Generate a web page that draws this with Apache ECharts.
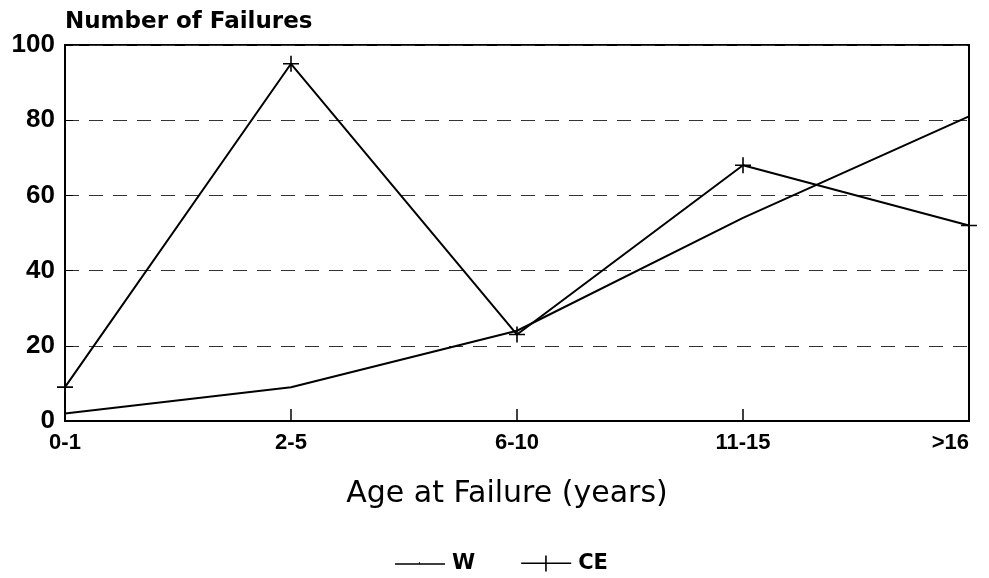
<!DOCTYPE html>
<html>
<head>
<meta charset="utf-8">
<script src="https://cdn.jsdelivr.net/npm/echarts@6/dist/echarts.min.js"></script>
<style>
  html, body { margin: 0; padding: 0; background: #fff; }
  #chart { width: 989px; height: 578px; }
</style>
</head>
<body>
<div id="chart"></div>
<script>
// Failures by age bucket, two series (W and CE).
var ageBuckets = ["0-1", "2-5", "6-10", "11-15", ">16"];
var wFailures = [2, 9, 24, 54, 81];
var ceFailures = [9, 95, 23, 68, 52];
var yTicks = { min: 0, max: 100, interval: 20 };

var SANS = "'Liberation Sans', Arial, sans-serif";
var WIDE = "'DejaVu Sans', sans-serif";
var plus = "path://M-1,-10h2v20h-2zM-10,-1h20v2h-20z";

var c = echarts.init(document.getElementById("chart"));
c.setOption({
  animation: false,
  textStyle: { fontFamily: SANS, color: "#000" },
  grid: { left: 65, right: 20, top: 45, bottom: 157, show: true, borderColor: "#000", borderWidth: 2 },
  legend: {
    top: 548, left: 390, itemGap: 46, itemWidth: 50, itemHeight: 20,
    textStyle: { fontFamily: WIDE, fontSize: 21, fontWeight: "bold", color: "#000", padding: [0, 0, 0, 2] },
    data: [
      { name: "W", icon: "path://M0,9h50v1.6h-50zM24,8h1v2h-1z" },
      { name: "CE", icon: "path://M0,9h50v1.6h-50zM24,2h1.6v16h-1.6z" }
    ]
  },
  xAxis: {
    type: "category", data: ageBuckets, boundaryGap: false,
    name: "Age at Failure (years)", nameLocation: "middle", nameGap: 58,
    nameTextStyle: { fontSize: 30, color: "#000", fontFamily: WIDE, padding: [0, 20, 0, 0] },
    axisLine: { lineStyle: { color: "#000", width: 2 } },
    axisTick: { inside: true, length: 12, lineStyle: { color: "#000", width: 1.5 } },
    axisLabel: { fontSize: 22, fontWeight: "bold", color: "#000", margin: 11, alignMaxLabel: "right" },
    splitLine: { show: false }
  },
  yAxis: {
    type: "value", min: yTicks.min, max: yTicks.max, interval: yTicks.interval,
    name: "Number of Failures", nameLocation: "end", nameGap: 11,
    nameTextStyle: { fontFamily: WIDE, fontSize: 23, fontWeight: "bold", color: "#000", align: "left" },
    axisLine: { show: true, lineStyle: { color: "#000", width: 2 } },
    axisTick: { show: true, inside: true, length: 8, lineStyle: { color: "#000" } },
    axisLabel: { fontSize: 26, fontWeight: "bold", color: "#000", margin: 10 },
    splitLine: { lineStyle: { color: "#333", type: [14, 10], width: 1 } }
  },
  series: [
    {
      name: "W", type: "line", data: wFailures, symbol: "none",
      lineStyle: { color: "#000", width: 2 }, itemStyle: { color: "#000" }
    },
    {
      name: "CE", type: "line", data: ceFailures, symbol: plus, symbolSize: 16,
      lineStyle: { color: "#000", width: 2 }, itemStyle: { color: "#000" }
    }
  ]
});
</script>
</body>
</html>
